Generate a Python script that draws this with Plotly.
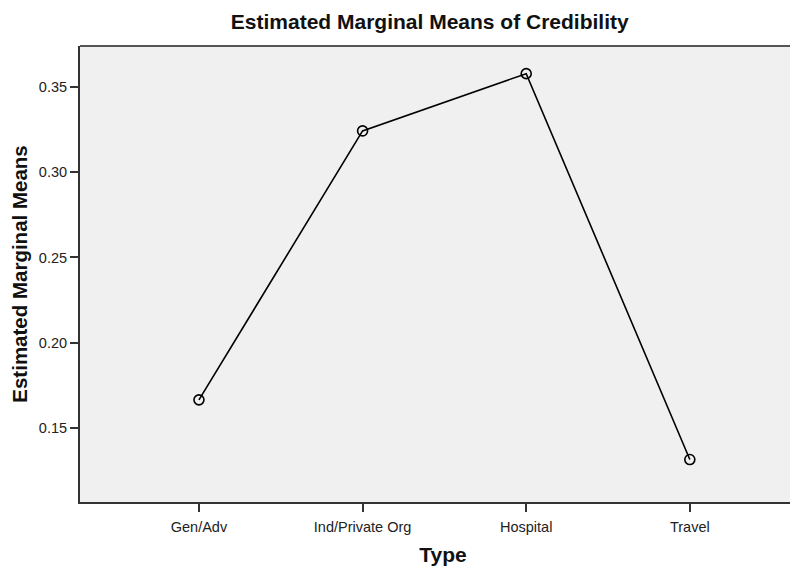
import plotly.graph_objects as go

categories = ["Gen/Adv", "Ind/Private Org", "Hospital", "Travel"]
means = [0.1665, 0.3242, 0.3578, 0.1315]
y_ticks = [0.15, 0.20, 0.25, 0.30, 0.35]
y_tick_labels = ["0.15", "0.20", "0.25", "0.30", "0.35"]

x_idx = list(range(len(categories)))

fig = go.Figure()
fig.add_trace(go.Scatter(
    x=x_idx, y=means, mode="lines+markers",
    line=dict(color="black", width=1.6),
    marker=dict(symbol="circle-open", size=10, color="black", line=dict(width=1.6)),
    showlegend=False, hoverinfo="skip",
))

fig.update_layout(
    width=798, height=558,
    margin=dict(l=72, r=0, t=38, b=64),
    paper_bgcolor="white", plot_bgcolor="#f0f0f0",
    font=dict(family="Liberation Sans, Arial, sans-serif", color="#222", size=14),
    title=dict(text="<b>Estimated Marginal Means of Credibility</b>",
               x=0.5285, xanchor="center", y=0.975, yanchor="middle",
               font=dict(size=21, color="#111")),
    xaxis=dict(
        range=[-0.727, 3.71], tickmode="array", tickvals=x_idx, ticktext=categories,
        showgrid=False, zeroline=False, showline=True, linecolor="#333", linewidth=2,
        ticks="outside", ticklen=8, tickwidth=2, tickcolor="#333",
        tickfont=dict(size=14.5, color="#222"), ticklabelstandoff=3,
        title=dict(text="<b>Type</b>", font=dict(size=21, color="#111"), standoff=14),
    ),
    yaxis=dict(
        range=[0.1066, 0.374], tickmode="array", tickvals=y_ticks, ticktext=y_tick_labels,
        showgrid=False, zeroline=False, showline=True, linecolor="#333", linewidth=2,
        ticks="outside", ticklen=8, tickwidth=2, tickcolor="#333",
        tickfont=dict(size=14.5, color="#222"),
        title=dict(text="<b>Estimated Marginal Means</b>", font=dict(size=20.5, color="#111"), standoff=8),
    ),
)
fig.add_shape(type="line", xref="paper", yref="paper", x0=0, x1=1, y0=1, y1=1,
              line=dict(color="#555", width=2))

fig.write_html("out.html")
